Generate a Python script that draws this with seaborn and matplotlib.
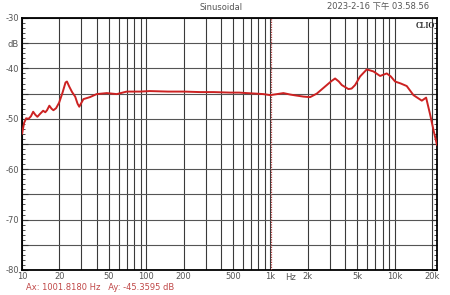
import matplotlib
matplotlib.use("Agg")
import matplotlib.pyplot as plt
import seaborn as sns
import pandas as pd
import numpy as np
from matplotlib.ticker import FixedLocator, NullFormatter

sns.set_style("white")
plt.rcParams['font.family'] = ['DejaVu Sans', 'Noto Sans CJK SC']

freq_hz = [10, 10.4, 10.8, 11.3, 11.8, 12.3, 12.8, 13.3, 14.0, 14.8, 15.4, 15.9, 16.6,
           17.3, 17.9, 18.8, 19.9, 21.2, 22.4, 23.0, 24.0, 25.3, 26.8, 28.0, 28.9, 29.8,
           31.2, 35.2, 39.9, 48.1, 57.9, 69.6, 89, 107, 150, 200, 271, 350, 473, 560,
           644, 760, 877, 993, 1130, 1271, 1450, 1630, 1850, 2085, 2360, 2750, 3100,
           3313, 3550, 3749, 4240, 4500, 4800, 5264, 5960, 6742, 7624, 8630, 9300,
           10070, 11200, 12500, 14150, 16530, 17900, 19300, 20500, 21900]
level_db = [-53.0, -50.8, -49.9, -50.0, -49.5, -48.6, -49.2, -49.6, -49.0, -48.4, -48.7,
            -48.3, -47.4, -48.0, -48.3, -47.9, -46.8, -44.8, -42.8, -42.6, -43.6, -44.7,
            -45.6, -47.0, -47.6, -47.0, -46.1, -45.7, -45.1, -44.9, -45.1, -44.6, -44.6,
            -44.5, -44.6, -44.6, -44.7, -44.7, -44.8, -44.8, -44.9, -45.0, -45.1, -45.3,
            -45.1, -44.9, -45.2, -45.4, -45.6, -45.7, -45.0, -43.6, -42.5, -42.0, -42.6,
            -43.3, -44.1, -44.0, -43.3, -41.6, -40.2, -40.6, -41.5, -41.0, -41.6, -42.6,
            -43.0, -43.5, -45.3, -46.4, -45.8, -49.2, -52.2, -55.2]

x_tick_vals = [10, 20, 50, 100, 200, 500, 1000, 2000, 5000, 10000, 20000]
x_tick_labels = ['10', '20', '50', '100', '200', '500', '1k', '2k', '5k', '10k', '20k']
y_tick_vals = [-80, -75, -70, -65, -60, -55, -50, -45, -40, -35, -30]
y_tick_labels = ['-80', '', '-70', '', '-60', '', '-50', '', '-40', 'dB', '-30']

cursor_hz = 1001.8180
cursor_db = -45.3595

df = pd.DataFrame({'freq': freq_hz, 'db': level_db})

fig = plt.figure(figsize=(4.5, 2.95), dpi=100)
ax = fig.add_axes([22/450, 1-270/295, (437-22)/450, (270-18)/295])

ax.set_xscale('log')
ax.set_xlim(10, 21900)
ax.set_ylim(-80, -30)

grid_minor = [m * 10**e for e in range(1, 5) for m in range(1, 10)] + [20000]
ax.xaxis.set_major_locator(FixedLocator(x_tick_vals))
ax.set_xticklabels(x_tick_labels)
ax.xaxis.set_minor_locator(FixedLocator(grid_minor))
ax.xaxis.set_minor_formatter(NullFormatter())
ax.set_yticks(y_tick_vals)
ax.set_yticklabels(y_tick_labels)
ax.yaxis.set_minor_locator(FixedLocator(list(range(-80, -29))))

ax.grid(True, which='both', axis='x', color='#3a3a3a', lw=0.8)
ax.grid(True, which='major', axis='y', color='#555555', lw=0.8)

ax.axvline(cursor_hz, color='#b04040', lw=0.9, ls=(0, (1, 1)), zorder=3)

sns.lineplot(data=df, x='freq', y='db', ax=ax, color='#cc2222', lw=1.4, zorder=4)
ax.set_xlabel('')
ax.set_ylabel('')

ax.tick_params(axis='x', which='both', length=0, labelsize=6.0, labelcolor='#555555', pad=1.5)
ax.tick_params(axis='y', which='major', direction='in', length=4, left=True, right=True,
               labelsize=6.0, labelcolor='#555555', pad=2, color='#333333')
ax.tick_params(axis='y', which='minor', direction='in', length=2, left=True, right=True,
               color='#333333')
for s in ax.spines.values():
    s.set_color('black')
    s.set_linewidth(1.3)

fig.text(290/450, 1-277/295, 'Hz', ha='center', va='center', fontsize=6.0, color='#555555')

fig.text(221/450, 1-7/295, 'Sinusoidal', ha='center', va='center', fontsize=6.0, color='#555555')
fig.text(429/450, 1-7/295, '2023-2-16 下午 03.58.56', ha='right', va='center', fontsize=6.0,
         color='#555555', family=['DejaVu Sans', 'Noto Sans CJK SC'])
ax.text(0.995, 0.985, 'CLIO', transform=ax.transAxes, ha='right', va='top', fontsize=5.5,
        fontweight='bold', family='Liberation Serif', color='#222222')
fig.text(26/450, 1-288/295, f'Ax: {cursor_hz:.4f} Hz   Ay: {cursor_db:.4f} dB', ha='left', va='center',
         fontsize=6.0, color='#c04848')

fig.savefig('out.png', dpi=100)
